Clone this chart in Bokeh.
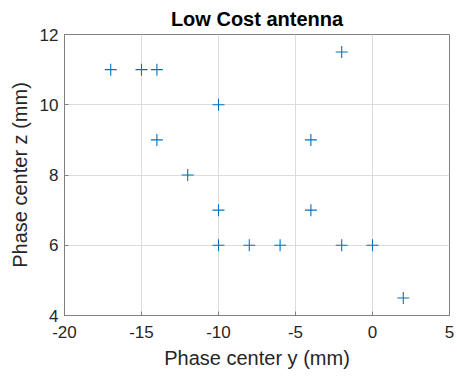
from bokeh.plotting import figure
from bokeh.models import Range1d, FixedTicker
from bokeh.embed import file_html
from bokeh.resources import INLINE

# Phase center positions (mm)
phase_y = [-17, -15, -14, -14, -12, -10, -10, -10, -8, -6, -4, -4, -2, -2, 0, 2]
phase_z = [11, 11, 11, 9, 8, 10, 7, 6, 6, 6, 9, 7, 11.5, 6, 6, 4.5]

x_ticks = [-20, -15, -10, -5, 0, 5]
y_ticks = [4, 6, 8, 10, 12]

FONT = "Liberation Sans"
TEXT = "#262626"
AXIS = "#808080"

p = figure(width=457, height=377, output_backend="svg", toolbar_location=None,
           x_range=Range1d(-20, 5), y_range=Range1d(4, 12),
           min_border_left=64, min_border_right=8,
           min_border_top=32, min_border_bottom=62,
           title="Low Cost antenna")

p.title.text_font = FONT
p.title.text_font_size = "20px"
p.title.text_font_style = "bold"
p.title.text_color = "#000000"
p.title.align = "center"
p.title.offset = 0

p.scatter(phase_y, phase_z, marker="cross", size=12, line_width=1.1,
          line_color="#0072BD")

for ax, ticks in ((p.xaxis, x_ticks), (p.yaxis, y_ticks)):
    ax.ticker = FixedTicker(ticks=ticks)
    ax.major_label_overrides = {t: str(t) for t in ticks}
    ax.major_label_text_font = FONT
    ax.major_label_text_font_size = "17px"
    ax.major_label_text_color = TEXT
    ax.axis_label_text_font = FONT
    ax.axis_label_text_font_size = "20px"
    ax.axis_label_text_font_style = "normal"
    ax.axis_label_text_color = TEXT
    ax.axis_line_color = AXIS
    ax.major_tick_line_color = AXIS
    ax.major_tick_in = 4
    ax.major_tick_out = 0
    ax.minor_tick_line_color = None

p.xaxis.axis_label = "Phase center y (mm)"
p.yaxis.axis_label = "Phase center z (mm)"
p.xaxis.major_label_standoff = 10
p.yaxis.major_label_standoff = 6
p.xaxis.axis_label_standoff = 6
p.yaxis.axis_label_standoff = 6

p.grid.grid_line_color = "#dcdcdc"
p.grid.grid_line_width = 1
p.outline_line_color = AXIS
p.outline_line_width = 1
p.background_fill_color = "white"
p.border_fill_color = "white"

open("out.html", "w").write(file_html(p, INLINE))
